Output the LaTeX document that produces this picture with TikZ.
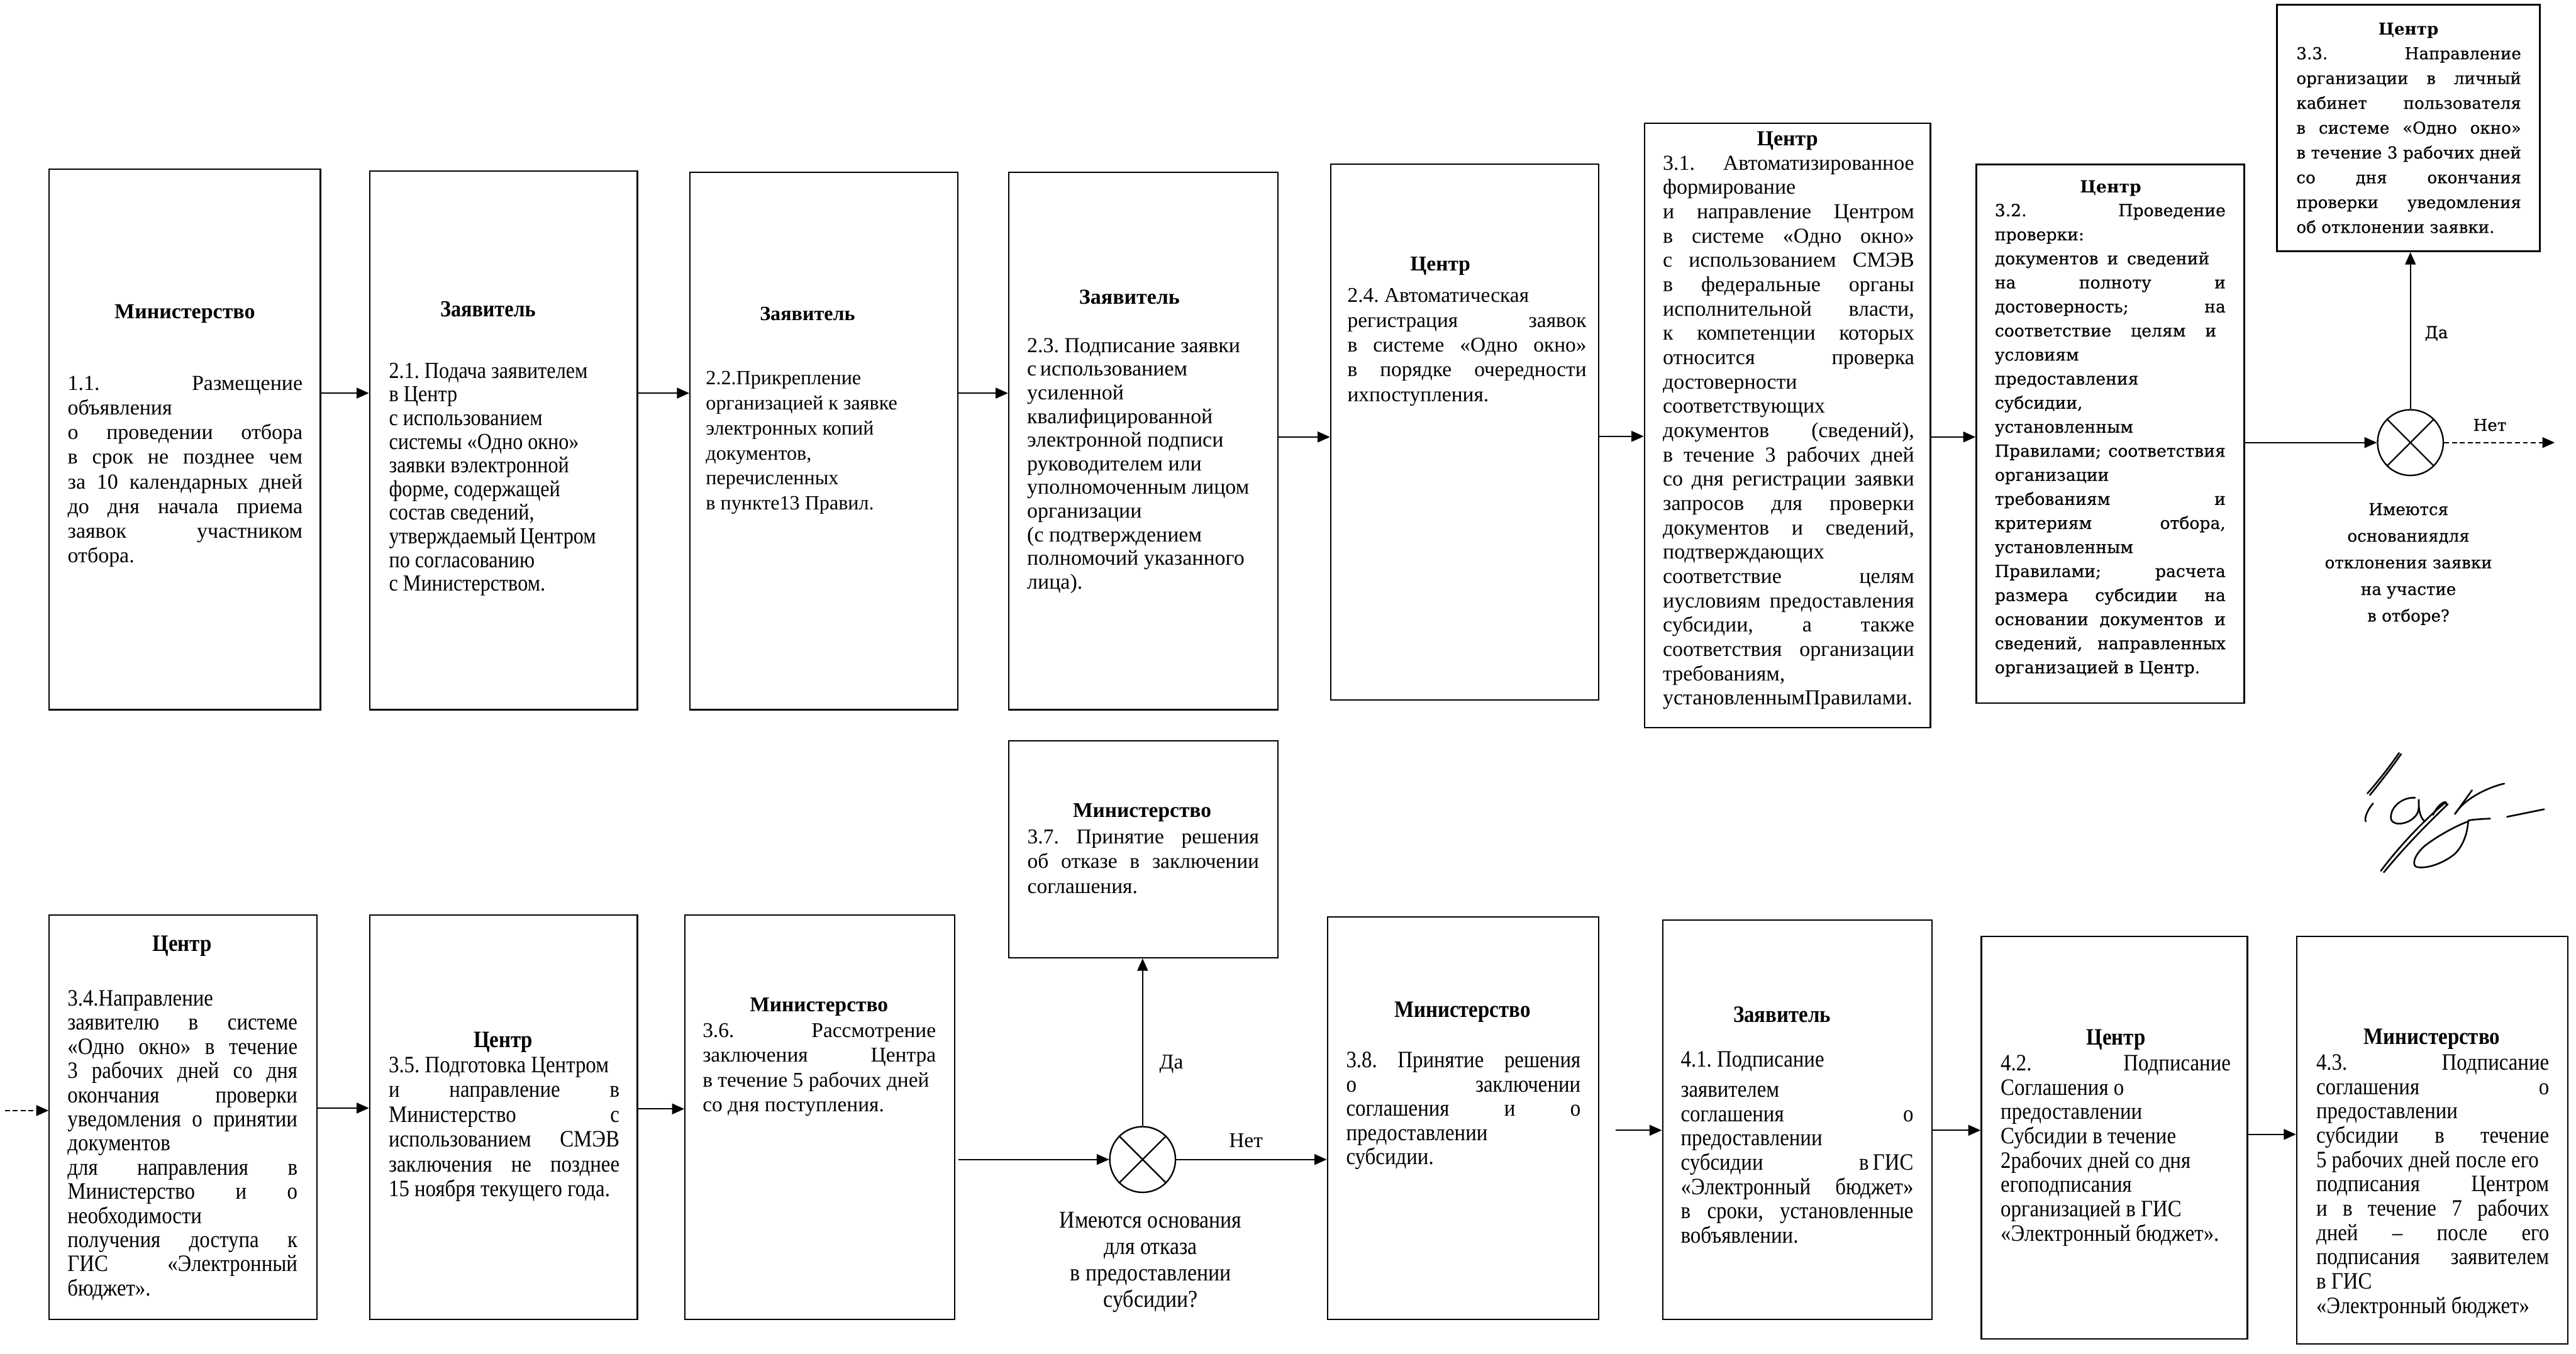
\documentclass[tikz,border=0pt]{standalone}
\usepackage{fontspec}
\setmainfont{Liberation Serif}
\newfontfamily\condf{Liberation Serif}[FakeStretch=0.88]
\newfontfamily\dvs{DejaVu Serif}
\newfontfamily\dvsb{DejaVu Serif}[FakeBold=0.5]
\usetikzlibrary{arrows.meta,fit}
\frenchspacing
\newcommand\jline[1]{\makebox[\hsize][s]{\spaceskip=0pt\xspaceskip=0pt\relax #1}}
\newcommand\pline[2]{\makebox[#1\hsize][s]{\spaceskip=0pt\xspaceskip=0pt\relax #2}}
\newcommand\nline[1]{\mbox{\spaceskip=0pt\xspaceskip=0pt\relax #1}}
\begin{document}
\begin{tikzpicture}[x=1pt,y=-1pt,
  box/.style={draw, line width=0.85pt, inner sep=0pt},
  boxb/.style={draw, line width=1.1pt, inner sep=0pt},
  body/.style={inner sep=0pt, align=left, anchor=north west},
  qtext/.style={inner sep=0pt, align=center, anchor=north},
  head/.style={inner sep=0pt, anchor=center},
  lbl/.style={inner sep=0pt, anchor=center},
  arr/.style={line width=0.8pt, -{Triangle[length=7.5pt,width=6.5pt]}},
  darr/.style={arr, dash pattern=on 3pt off 1.8pt},
  dec/.style={circle, draw, line width=0.9pt, minimum size=40pt, inner sep=0pt},
  sig/.style={line width=1pt, line cap=round, line join=round},
]
\useasboundingbox (0,0) rectangle (1568,824);

% ---------------- top row boxes ----------------
\node[box, fit={(30,103) (195,432)}] (b1) {};
\node[box, fit={(225,104) (388,432)}] (b2) {};
\node[box, fit={(420,105) (583,432)}] (b3) {};
\node[box, fit={(614,105) (778,432)}] (b4) {};
\node[box, fit={(810,100) (973,426)}] (b5) {};
\node[box, fit={(1001,75) (1175,443)}] (b6) {};
\node[boxb, fit={(1203,100) (1366,428)}] (b7) {};
\node[boxb, fit={(1386,3) (1546,153)}] (b8) {};
\node[dec] (c1) at (1467.2,269.4) {};
\draw[line width=0.9pt] (c1.north west) -- (c1.south east) (c1.north east) -- (c1.south west);

% headers top
\node[head, font=\bfseries\fontsize{13}{15}\selectfont] (h1) at (112.5,191) {Министерство};
\node[head, font=\condf\bfseries\fontsize{14}{14.4}\selectfont] (h2) at (297,188) {Заявитель};
\node[head, font=\bfseries\fontsize{12.3}{15}\selectfont] (h3) at (491.5,191) {Заявитель};
\node[head, font=\bfseries\fontsize{13}{15}\selectfont] (h4) at (687.5,181) {Заявитель};
\node[head, font=\bfseries\fontsize{12.8}{15}\selectfont] (h5) at (876.7,162) {Центр};
\node[head, font=\bfseries\fontsize{13}{15}\selectfont] (h6) at (1088,85.6) {Центр};
\node[head, font=\dvs\bfseries\fontsize{10.2}{14}\selectfont] (h7) at (1284.7,114.7) {Центр};
\node[head, font=\dvs\bfseries\fontsize{10}{14}\selectfont] (h8) at (1466,18.6) {Центр};

% bodies top
\node[body, text width=143pt, font=\fontsize{13}{15}\selectfont] (t1) at (41,226.75) {\strut\jline{1.1. Размещение}\\
\nline{объявления}\\
\jline{о проведении отбора}\\
\jline{в срок не позднее чем}\\
\jline{за 10 календарных дней}\\
\jline{до дня начала приема}\\
\jline{заявок участником}\\
\nline{отбора.}};

\node[body, text width=131pt, font=\condf\fontsize{14}{14.4}\selectfont] (t2) at (236.6,219.9) {\strut\nline{2.1. Подача заявителем}\\
\nline{в Центр}\\
\nline{с использованием}\\
\nline{системы «Одно окно»}\\
\nline{заявки вэлектронной}\\
\nline{форме, содержащей}\\
\nline{состав сведений,}\\
\nline{утверждаемый\,Центром}\\
\nline{по согласованию}\\
\nline{с Министерством.}};

\node[body, text width=130pt, font=\fontsize{12.3}{15.2}\selectfont] (t3) at (429.5,223.4) {\strut\nline{2.2.Прикрепление}\\
\nline{организацией к заявке}\\
\nline{электронных копий}\\
\nline{документов,}\\
\nline{перечисленных}\\
\nline{в пункте13 Правил.}};

\node[body, text width=136pt, font=\fontsize{13}{14.4}\selectfont] (t4) at (625,204.2) {\strut\nline{2.3. Подписание заявки}\\
\nline{с\,использованием}\\
\nline{усиленной}\\
\nline{квалифицированной}\\
\nline{электронной подписи}\\
\nline{руководителем или}\\
\nline{уполномоченным лицом}\\
\nline{организации}\\
\nline{(с подтверждением}\\
\nline{полномочий указанного}\\
\nline{лица).}};

\node[body, text width=145.5pt, font=\fontsize{12.8}{15.1}\selectfont] (t5) at (820,173.2) {\strut\nline{2.4. Автоматическая}\\
\jline{регистрация заявок}\\
\jline{в системе «Одно окно»}\\
\jline{в порядке очередности}\\
\nline{ихпоступления.}};

\node[body, text width=153pt, font=\fontsize{13}{14.8}\selectfont] (t6) at (1012,92.9) {\strut\jline{3.1. Автоматизированное}\\
\nline{формирование}\\
\jline{и направление Центром}\\
\jline{в системе «Одно окно»}\\
\jline{с использованием СМЭВ}\\
\jline{в федеральные органы}\\
\jline{исполнительной власти,}\\
\jline{к компетенции которых}\\
\jline{относится проверка}\\
\nline{достоверности}\\
\nline{соответствующих}\\
\jline{документов (сведений),}\\
\jline{в течение 3 рабочих дней}\\
\jline{со дня регистрации заявки}\\
\jline{запросов для проверки}\\
\jline{документов и сведений,}\\
\nline{подтверждающих}\\
\jline{соответствие целям}\\
\jline{иусловиям предоставления}\\
\jline{субсидии, а также}\\
\jline{соответствия организации}\\
\nline{требованиям,}\\
\nline{установленнымПравилами.}};

\node[body, text width=140.5pt, font=\dvsb\fontsize{10.2}{14.64}\selectfont] (t7) at (1214,121.2) {\strut\jline{3.2. Проведение}\\
\nline{проверки:}\\
\pline{0.93}{документов и сведений}\\
\jline{на полноту и}\\
\jline{достоверность; на}\\
\pline{0.96}{соответствие целям и}\\
\nline{условиям}\\
\nline{предоставления}\\
\nline{субсидии,}\\
\nline{установленным}\\
\jline{Правилами; соответствия}\\
\nline{организации}\\
\jline{требованиям и}\\
\jline{критериям отбора,}\\
\nline{установленным}\\
\jline{Правилами; расчета}\\
\jline{размера субсидии на}\\
\jline{основании документов и}\\
\jline{сведений, направленных}\\
\nline{организацией в Центр.}};

\node[body, text width=136.8pt, font=\dvsb\fontsize{10}{15.1}\selectfont] (t8) at (1397.6,25.3) {\strut\jline{3.3. Направление}\\
\jline{организации в личный}\\
\jline{кабинет пользователя}\\
\jline{в системе «Одно окно»}\\
\jline{в течение 3 рабочих дней}\\
\jline{со дня окончания}\\
\jline{проверки уведомления}\\
\nline{об отклонении заявки.}};

\node[qtext, font=\dvsb\fontsize{10}{16.2}\selectfont] (q1) at (1466,302) {\strut\nline{Имеются}\\ \nline{основаниядля}\\ \nline{отклонения заявки}\\ \nline{на участие}\\ \nline{в отборе?}};
\node[lbl, font=\dvsb\fontsize{10}{12}\selectfont] (l1) at (1483,203) {Да};
\node[lbl, font=\dvsb\fontsize{10}{12}\selectfont] (l2) at (1515.5,258.7) {Нет};
\coordinate (n1) at (1555,269.4);

% top arrows
\draw[arr] (b1.east |- 0,239.3) -- (b2.west |- 0,239.3);
\draw[arr] (b2.east |- 0,239.3) -- (b3.west |- 0,239.3);
\draw[arr] (b3.east |- 0,239.3) -- (b4.west |- 0,239.3);
\draw[arr] (b4.east |- 0,266) -- (b5.west |- 0,266);
\draw[arr] (b5.east |- 0,265.6) -- (b6.west |- 0,265.6);
\draw[arr] (b6.east |- 0,266) -- (b7.west |- 0,266);
\draw[arr] (b7.east |- c1) -- (c1.west);
\draw[arr] (c1.north) -- (c1.north |- b8.south);
\draw[darr] (c1.east) -- (n1);

% ---------------- bottom row boxes ----------------
\node[box, fit={(30,557) (193,803)}] (b9) {};
\node[box, fit={(225,557) (388,803)}] (b10) {};
\node[box, fit={(417,557) (581,803)}] (b11) {};
\node[box, fit={(614,451) (778,583)}] (b12) {};
\node[box, fit={(808,558) (973,803)}] (b13) {};
\node[box, fit={(1012,560) (1176,803)}] (b14) {};
\node[box, fit={(1206,570) (1368,815)}] (b15) {};
\node[box, fit={(1398,570) (1563,818)}] (b16) {};
\node[dec] (c2) at (695.5,705.8) {};
\draw[line width=0.9pt] (c2.north west) -- (c2.south east) (c2.north east) -- (c2.south west);

\node[head, font=\condf\bfseries\fontsize{14.3}{14.7}\selectfont] (h9) at (110.8,575.8) {Центр};
\node[head, font=\condf\bfseries\fontsize{14.3}{14.7}\selectfont] (h10) at (306.3,634.4) {Центр};
\node[head, font=\bfseries\fontsize{12.8}{15}\selectfont] (h11) at (498.5,613) {Министерство};
\node[head, font=\bfseries\fontsize{12.8}{15}\selectfont] (h12) at (695.2,494.8) {Министерство};
\node[head, font=\condf\bfseries\fontsize{14.3}{14.7}\selectfont] (h13) at (890.2,616) {Министерство};
\node[head, font=\condf\bfseries\fontsize{14.3}{14.7}\selectfont] (h14) at (1084.7,617.4) {Заявитель};
\node[head, font=\condf\bfseries\fontsize{14.3}{14.7}\selectfont] (h15) at (1288,633) {Центр};
\node[head, font=\condf\bfseries\fontsize{14.3}{14.7}\selectfont] (h16) at (1480.3,632.6) {Министерство};

\node[body, text width=140pt, font=\condf\fontsize{14.3}{14.7}\selectfont] (t9) at (40.9,601.8) {\strut\nline{3.4.Направление}\\
\jline{заявителю в системе}\\
\jline{«Одно окно» в течение}\\
\jline{3 рабочих дней со дня}\\
\jline{окончания проверки}\\
\jline{уведомления о принятии}\\
\nline{документов}\\
\jline{для направления в}\\
\jline{Министерство и о}\\
\nline{необходимости}\\
\jline{получения доступа к}\\
\jline{ГИС «Электронный}\\
\nline{бюджет».}};

\node[body, text width=140.5pt, font=\condf\fontsize{14.3}{15.1}\selectfont] (t10) at (236.4,642.1) {\strut\nline{3.5. Подготовка Центром}\\
\jline{и направление в}\\
\jline{Министерство с}\\
\jline{использованием СМЭВ}\\
\jline{заключения не позднее}\\
\nline{15 ноября текущего года.}};

\node[body, text width=142pt, font=\fontsize{12.8}{15}\selectfont] (t11) at (427.5,620.8) {\strut\jline{3.6. Рассмотрение}\\
\jline{заключения Центра}\\
\nline{в течение 5 рабочих дней}\\
\nline{со дня поступления.}};

\node[body, text width=141pt, font=\fontsize{12.8}{15.2}\selectfont] (t12) at (625.2,502.6) {\strut\jline{3.7. Принятие решения}\\
\jline{об отказе в заключении}\\
\nline{соглашения.}};

\node[body, text width=142.7pt, font=\condf\fontsize{14.3}{14.8}\selectfont] (t13) at (819.2,639.2) {\strut\jline{3.8. Принятие решения}\\
\jline{о заключении}\\
\jline{соглашения и о}\\
\nline{предоставлении}\\
\nline{субсидии.}};

\node[body, text width=141.6pt, font=\condf\fontsize{14.3}{14.8}\selectfont] (t14) at (1022.9,638.9) {\strut\nline{4.1. Подписание}\\[3.5pt]
\nline{заявителем}\\
\jline{соглашения о}\\
\nline{предоставлении}\\
\jline{субсидии в\,ГИС}\\
\jline{«Электронный бюджет»}\\
\jline{в сроки, установленные}\\
\nline{вобъявлении.}};

\node[body, text width=140pt, font=\condf\fontsize{14.3}{14.8}\selectfont] (t15) at (1217.6,641.2) {\strut\jline{4.2. Подписание}\\
\nline{Соглашения о}\\
\nline{предоставлении}\\
\nline{Субсидии в течение}\\
\nline{2рабочих дней со дня}\\
\nline{егоподписания}\\
\nline{организацией в ГИС}\\
\nline{«Электронный бюджет».}};

\node[body, text width=141.7pt, font=\condf\fontsize{14.3}{14.8}\selectfont] (t16) at (1409.7,640.8) {\strut\jline{4.3. Подписание}\\
\jline{соглашения о}\\
\nline{предоставлении}\\
\jline{субсидии в течение}\\
\nline{5 рабочих дней после его}\\
\jline{подписания Центром}\\
\jline{и в течение 7 рабочих}\\
\jline{дней – после его}\\
\jline{подписания заявителем}\\
\nline{в ГИС}\\
\nline{«Электронный бюджет»}};

\node[qtext, font=\condf\fontsize{14.7}{16.1}\selectfont] (q2) at (700.4,735.8) {\strut\nline{Имеются основания}\\ \nline{для отказа}\\ \nline{в предоставлении}\\ \nline{субсидии?}};
\node[lbl, font=\fontsize{12.8}{15}\selectfont] (l3) at (713,647.7) {Да};
\node[lbl, font=\fontsize{12.8}{15}\selectfont] (l4) at (758.4,694.2) {Нет};
\coordinate (s0) at (3,676);

% bottom arrows
\draw[darr] (s0) -- (b9.west |- s0);
\draw[arr] (b9.east |- 0,674.5) -- (b10.west |- 0,674.5);
\draw[arr] (b10.east |- 0,675) -- (b11.west |- 0,675);
\draw[arr] ([xshift=2pt]b11.east |- c2) -- (c2.west);
\draw[arr] (c2.north) -- (c2.north |- b12.south);
\draw[arr] (c2.east) -- (b13.west |- c2);
\draw[arr] ([xshift=10pt]b13.east |- 0,688) -- (b14.west |- 0,688);
\draw[arr] (b14.east |- 0,688) -- (b15.west |- 0,688);
\draw[arr] (b15.east |- 0,690.5) -- (b16.west |- 0,690.5);

% signature
\draw[sig] (1460.3,458.3) .. controls (1455,466) and (1448,475) .. (1441,483);
\draw[sig] (1461.5,459) .. controls (1456,467) and (1449,476) .. (1442.5,484);
\draw[sig] (1444.5,489) .. controls (1441,493) and (1439,498) .. (1440,500);
\draw[sig] (1470,485.6) .. controls (1462,485) and (1454,492) .. (1455.5,499) .. controls (1457,503) and (1467,502) .. (1471.2,495.5) .. controls (1473,492) and (1472,488) .. (1472.3,486.8) .. controls (1472,492) and (1473,498) .. (1476,500);
\draw[sig] (1488.5,488.5) .. controls (1478,497) and (1462,513) .. (1449.2,530.1);
\draw[sig] (1490,489.5) .. controls (1480,499) and (1464,515) .. (1451,531);
\draw[sig] (1481,496) .. controls (1484,489) and (1490,486) .. (1489,490);
\draw[sig] (1504.7,481) -- (1494.3,495.5);
\draw[sig] (1524.3,477) .. controls (1515,479) and (1500,486) .. (1494.3,495.5);
\draw[sig] (1515.7,498.3) .. controls (1510,498.5) and (1504,499) .. (1502.4,499.5) .. controls (1502,506) and (1500,514) .. (1494.3,519.7) .. controls (1488,525) and (1478,529) .. (1471.2,527.8) .. controls (1468,527) and (1469,521) .. (1475.8,515) .. controls (1482,510) and (1494,503) .. (1502.4,500);
\draw[sig] (1526,497.2) -- (1548.6,492.6);
\end{tikzpicture}
\end{document}
